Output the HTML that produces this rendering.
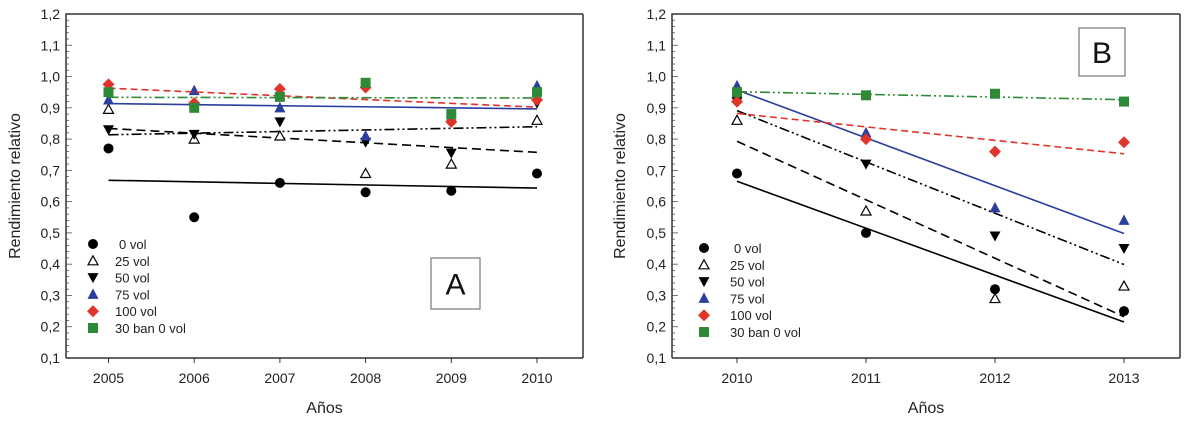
<!DOCTYPE html>
<html><head><meta charset="utf-8"><style>
html,body{margin:0;padding:0;background:#fff;}
svg{display:block;font-family:"Liberation Sans",Arial,sans-serif;}
</style></head><body>
<svg id="chart" width="1200" height="421" viewBox="0 0 1200 421"></svg>
<script>
// ---- Data ----
const yearsA = [2005, 2006, 2007, 2008, 2009, 2010];
const yearsB = [2010, 2011, 2012, 2013];
const seriesNames = ["0 vol", "25 vol", "50 vol", "75 vol", "100 vol", "30 ban 0 vol"];
const a0 = [0.77, 0.55, 0.66, 0.63, 0.635, 0.69];
const a25 = [0.895, 0.80, 0.81, 0.69, 0.72, 0.86];
const a50 = [0.83, 0.815, 0.855, 0.79, 0.755, 0.915];
const a75 = [0.925, 0.955, 0.90, 0.81, 0.87, 0.97];
const a100 = [0.975, 0.915, 0.96, 0.965, 0.855, 0.925];
const a30 = [0.95, 0.90, 0.935, 0.98, 0.88, 0.95];
const b0 = [0.69, 0.50, 0.32, 0.25];
const b25 = [0.86, 0.57, 0.29, 0.33];
const b50 = [0.92, 0.72, 0.49, 0.45];
const b75 = [0.97, 0.82, 0.58, 0.54];
const b100 = [0.92, 0.80, 0.76, 0.79];
const b30 = [0.95, 0.94, 0.945, 0.92];
const yTickLabels = ["0,1","0,2","0,3","0,4","0,5","0,6","0,7","0,8","0,9","1,0","1,1","1,2"];

const NS = "http://www.w3.org/2000/svg";
const svg = document.getElementById("chart");
function mk(tag, attrs, parent) {
  const e = document.createElementNS(NS, tag);
  for (const k in attrs) e.setAttribute(k, attrs[k]);
  (parent || svg).appendChild(e);
  return e;
}
const styles = [
  {color:"#000", dash:"", marker:"circle"},
  {color:"#000", dash:"9,5", marker:"triOpen"},
  {color:"#000", dash:"10,3,2,3,2,3", marker:"triDown"},
  {color:"#2b3f9e", dash:"", marker:"triUp"},
  {color:"#e0342a", dash:"7,4", marker:"diamond"},
  {color:"#2f8a37", dash:"10,3,2,3,2,3", marker:"square"}
];
function drawMarker(g, type, cx, cy, color) {
  let e;
  if (type === "circle") e = mk("circle", {cx:cx, cy:cy, r:5, fill:color}, g);
  else if (type === "triOpen") e = mk("polygon", {points:`${cx},${cy-5} ${cx-5},${cy+4} ${cx+5},${cy+4}`, fill:"#fff", stroke:"#000", "stroke-width":1.2}, g);
  else if (type === "triDown") e = mk("polygon", {points:`${cx-5.5},${cy-4.5} ${cx+5.5},${cy-4.5} ${cx},${cy+5.5}`, fill:color}, g);
  else if (type === "triUp") e = mk("polygon", {points:`${cx},${cy-6} ${cx-5.5},${cy+4.5} ${cx+5.5},${cy+4.5}`, fill:color}, g);
  else if (type === "diamond") e = mk("polygon", {points:`${cx},${cy-6} ${cx+6},${cy} ${cx},${cy+6} ${cx-6},${cy}`, fill:color}, g);
  else e = mk("rect", {x:cx-5, y:cy-5, width:10, height:10, fill:color}, g);
  return e;
}
function regress(vals) {
  const n = vals.length; const mx = (n-1)/2;
  const my = vals.reduce((s,v)=>s+v,0)/n;
  let sxy=0, sxx=0;
  vals.forEach((v,i)=>{sxy+=(i-mx)*(v-my); sxx+=(i-mx)*(i-mx);});
  const b = sxy/sxx;
  return [my - b*mx, my + b*(n-1-mx)];
}

function panel(opts) {
  const {id, left, right, top, bottom, years, xFirst, xStep, data, legX, legTextX, legY, legStep, box, boxLabel, yTitleX} = opts;
  const g = mk("g", {});
  
  
  const yS = v => bottom - (v - 0.1) / 1.1 * (bottom - top);
  const xS = i => xFirst + i * xStep;
  // minor ticks
  for (let k = 0; k <= 55; k++) {
    const y = yS(0.1 + k*0.02);
    const major = k % 5 === 0;
    mk("line", {x1:left, x2:left + (major?6:3), y1:y, y2:y, stroke:"#555", "stroke-width":0.8}, g);
  }
  // y tick labels
  yTickLabels.forEach((t,i)=>{
    const tx = mk("text", {x:left-6, y:yS(0.1+i*0.1)+5, "text-anchor":"end", "font-size":14, fill:"#222"}, g);
    tx.textContent = t;
    
    
  });
  // x ticks & labels
  years.forEach((yr,i)=>{
    mk("line", {x1:xS(i), x2:xS(i), y1:bottom, y2:bottom+5, stroke:"#333", "stroke-width":1}, g);
    const tx = mk("text", {x:xS(i), y:bottom+25, "text-anchor":"middle", "font-size":14, fill:"#222"}, g);
    tx.textContent = yr;
    
    
  });
  // frame
  const fr = mk("path", {d:`M${left},${bottom} L${left},${top} L${right},${top} M${left},${bottom} L${right},${bottom}`, fill:"none", stroke:"#333", "stroke-width":1.5}, g);
  
  
  mk("line", {x1:right, x2:right, y1:top, y2:bottom, stroke:"#333", "stroke-width":1.5}, g);
  // titles
  const xt = mk("text", {x:(left+right)/2, y:413, "text-anchor":"middle", "font-size":16, fill:"#222"}, g);
  xt.textContent = "Años";
  
  
  const yt = mk("text", {x:0, y:0, transform:`translate(${yTitleX},${(top+bottom)/2}) rotate(-90)`, "text-anchor":"middle", "font-size":16, fill:"#222"}, g);
  yt.textContent = "Rendimiento relativo";
  
  
  // series
  data.forEach((vals, si)=>{
    const st = styles[si];
    const sg = mk("g", {}, g);
    
    
    const [v0, v1] = regress(vals);
    const ln = mk("line", {x1:xS(0), y1:yS(v0), x2:xS(vals.length-1), y2:yS(v1), stroke:st.color, "stroke-width":1.6, "stroke-dasharray":st.dash}, sg);
    
    
    vals.forEach((v,i)=>{
      const m = drawMarker(sg, st.marker, xS(i), yS(v), st.color);
      
      
    });
  });
  // legend
  const lg = mk("g", {}, g);
  
  
  seriesNames.forEach((n, si)=>{
    const y = legY + si*legStep;
    drawMarker(lg, styles[si].marker, legX, y, styles[si].color);
    const t = mk("text", {x:legTextX + (si===0?4:0), y:y+5, "font-size":13, fill:"#222"}, lg);
    t.textContent = n;
    
    
  });
  // panel label box
  const bx = mk("rect", {x:box[0], y:box[1], width:box[2], height:box[3], fill:"#fff", stroke:"#777", "stroke-width":1.2}, g);
  
  
  const bt = mk("text", {x:box[0]+box[2]/2, y:box[1]+box[3]/2+11, "text-anchor":"middle", "font-size":30, fill:"#111"}, g);
  bt.textContent = boxLabel;
  
  
}

panel({id:"panel-a", left:66, right:583, top:14, bottom:358, years:yearsA, xFirst:108.5, xStep:85.7,
  data:[a0,a25,a50,a75,a100,a30], legX:93, legTextX:115, legY:244, legStep:16.8,
  box:[431,258,49,51], boxLabel:"A", yTitleX:20});
panel({id:"panel-b", left:672, right:1180, top:14, bottom:358, years:yearsB, xFirst:737, xStep:129,
  data:[b0,b25,b50,b75,b100,b30], legX:704, legTextX:730, legY:248, legStep:16.8,
  box:[1079,28,46,48], boxLabel:"B", yTitleX:625});
</script>
</body></html>
